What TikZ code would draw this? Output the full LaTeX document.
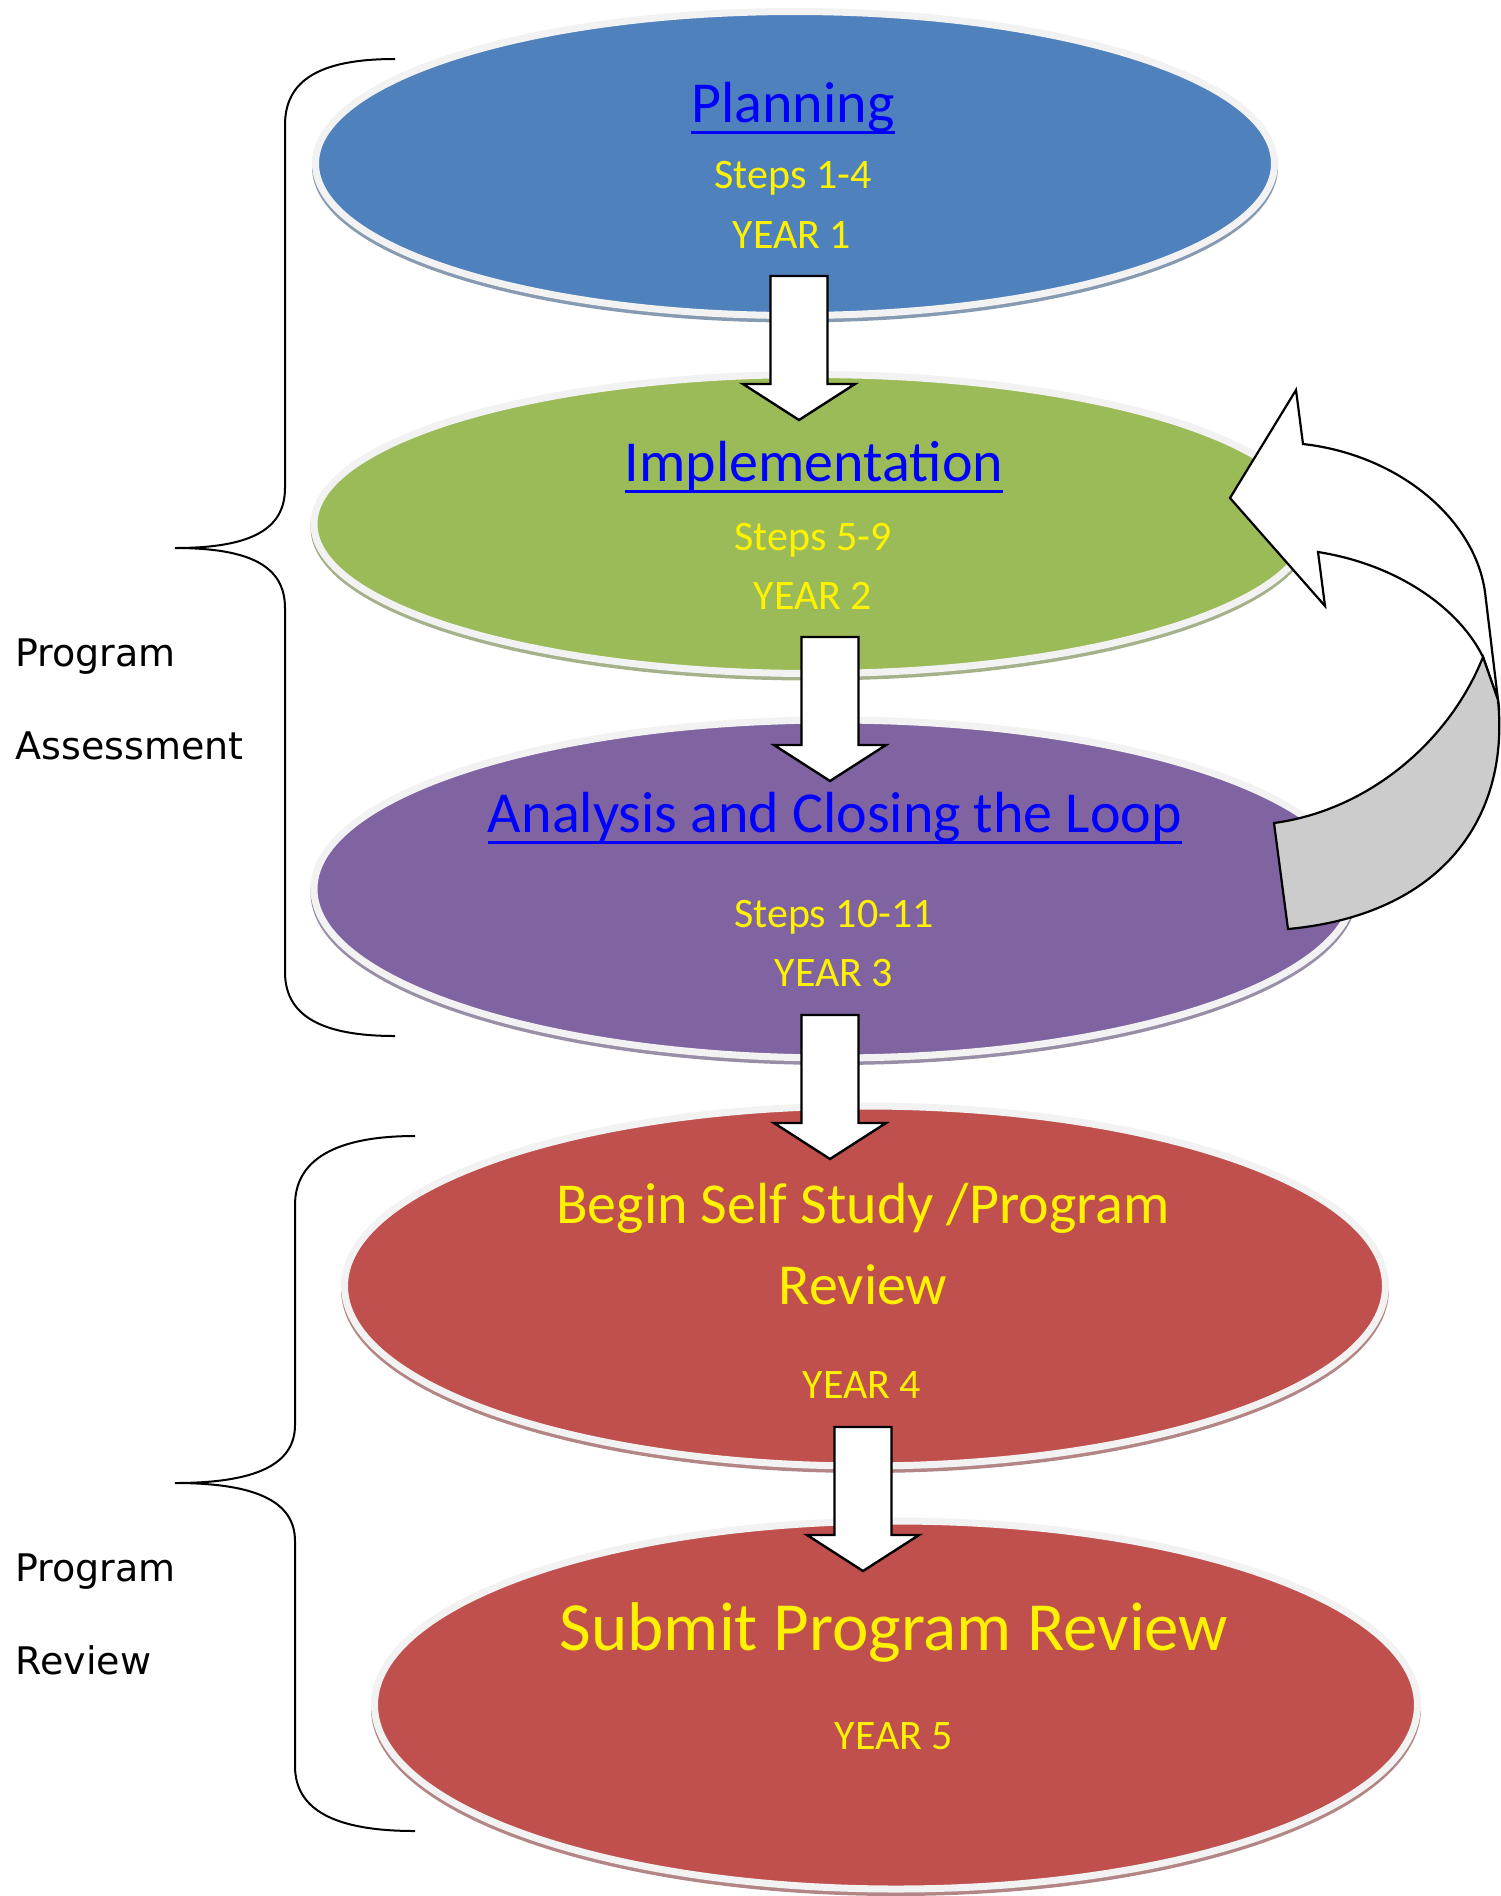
\documentclass[tikz,border=0pt]{standalone}
\usepackage{fontspec}
\setmainfont{Carlito}
\newfontfamily\sidefont{DejaVu Sans}
\usetikzlibrary{shapes.geometric}

\definecolor{planblue}{HTML}{4F81BD}
\definecolor{implgreen}{HTML}{9BBB59}
\definecolor{anapurple}{HTML}{8064A2}
\definecolor{reviewred}{HTML}{C0504D}
\definecolor{ringgray}{HTML}{F2F2F2}
\definecolor{loopgray}{HTML}{CCCCCC}
\definecolor{linkblue}{HTML}{0000FF}

% underline for the linked headings
\newcommand{\underlink}[1]{\setbox0\hbox{#1}\rlap{\rule[-0.2em]{\wd0}{0.05em}}\box0}

\tikzset{
  stage/.style={ellipse, fill=#1, draw=ringgray, line width=7, inner sep=0,
    preaction={draw=#1!50!gray!80!white, line width=7, transform canvas={yshift=-3.5pt}}},
  blockline/.style={draw=black, fill=white, line width=2.4, line join=miter},
  pics/downblock/.style={code={
    \draw[blockline] (-28.5,0) -- (28.5,0) -- (28.5,108) -- (56,108) -- (0,144)
      -- (-56,108) -- (-28.5,108) -- cycle;}},
  heading/.style={anchor=base, text=linkblue, font=\fontsize{58}{70}\selectfont},
  bigline/.style={anchor=base, text=yellow, font=\fontsize{58}{70}\selectfont},
  subline/.style={anchor=base, text=yellow, font=\fontsize{42}{50}\selectfont},
  sidelabel/.style={anchor=base west, font=\sidefont\fontsize{38}{46}\selectfont},
  bracket/.style={draw=black, line width=2},
  loopline/.style={draw=black, line width=2.2, line join=miter}
}

\begin{document}
\begin{tikzpicture}[x=1pt,y=-1pt]
\useasboundingbox (0,0) rectangle (1500,1896);

% the five stages
\node[stage=planblue, minimum width=959, minimum height=304] (plan) at (795,163.5) {};
\node[stage=implgreen, minimum width=996, minimum height=299] (impl) at (812,524) {};
\node[stage=anapurple, minimum width=1040, minimum height=338] (ana) at (834,889) {};
\node[stage=reviewred, minimum width=1041, minimum height=360] (self) at (865,1286) {};
\node[stage=reviewred, minimum width=1043, minimum height=368] (submit) at (896,1705) {};

% block arrows between the stages
\pic (arr1) at (799,276) {downblock};
\pic (arr2) at (830,637) {downblock};
\pic (arr3) at (830,1015) {downblock};
\pic (arr4) at (863,1427) {downblock};

% loop back arrow
\coordinate (tip) at (1230,498);
\coordinate (barbtop) at (1296,390);
\coordinate (outin) at (1303,444);
\coordinate (outturn) at (1498,700);
\coordinate (inturn) at (1483,657);
\coordinate (inin) at (1318,552);
\coordinate (barbbot) at (1325,606);
\coordinate (tailout) at (1288,929);
\coordinate (tailin) at (1274,823);
\draw[loopline, fill=white] (tip) -- (barbtop) -- (outin)
  .. controls (1400,455) and (1475,520) .. (1485,592) -- (outturn) -- (inturn)
  .. controls (1460,610) and (1400,565) .. (inin) -- (barbbot) -- cycle;
\draw[loopline, fill=loopgray] (inturn) -- (outturn)
  .. controls (1510,820) and (1440,915) .. (tailout) -- (tailin)
  .. controls (1370,810) and (1450,740) .. (inturn) -- cycle;

% braces
\coordinate (asstop) at (395,59);
\coordinate (assmid) at (175,548);
\coordinate (assbot) at (395,1036);
\draw[bracket] (asstop) .. controls (320,59) and (285,80) .. (285,125) -- (285,488)
  .. controls (285,530) and (250,548) .. (assmid)
  .. controls (250,548) and (285,566) .. (285,608) -- (285,972)
  .. controls (285,1015) and (320,1036) .. (assbot);
\coordinate (revtop) at (415,1136);
\coordinate (revmid) at (175,1483);
\coordinate (revbot) at (415,1831);
\draw[bracket] (revtop) .. controls (335,1136) and (295,1160) .. (295,1205) -- (295,1425)
  .. controls (295,1465) and (255,1483) .. (revmid)
  .. controls (255,1483) and (295,1501) .. (295,1541) -- (295,1766)
  .. controls (295,1810) and (335,1831) .. (revbot);

% texts
\node[heading] (plant) at (793,122) {\underlink{Planning}};
\node[subline] (plans) at (793,188) {Steps 1-4};
\node[subline] (plany) at (792,248) {YEAR 1};
\node[heading] (implt) at (814,481) {\underlink{Implementation}};
\node[subline] (impls) at (813,550) {Steps 5-9};
\node[subline] (imply) at (813,609) {YEAR 2};
\node[heading] (anat) at (835,832) {\underlink{Analysis and Closing the Loop}};
\node[subline] (anas) at (834,927) {Steps 10-11};
\node[subline] (anay) at (834,986) {YEAR 3};
\node[bigline] (selft) at (863,1223) {Begin Self Study /Program};
\node[bigline] (selfr) at (863,1304) {Review};
\node[subline] (selfy) at (862,1398) {YEAR 4};
\node[bigline, font=\fontsize{69}{80}\selectfont] (subt) at (894,1650) {Submit Program Review};
\node[subline] (suby) at (894,1749) {YEAR 5};

\node[sidelabel] (pa1) at (12,666) {Program};
\node[sidelabel] (pa2) at (12,759) {Assessment};
\node[sidelabel] (pr1) at (12,1581) {Program};
\node[sidelabel] (pr2) at (12,1674) {Review};
\end{tikzpicture}
\end{document}
